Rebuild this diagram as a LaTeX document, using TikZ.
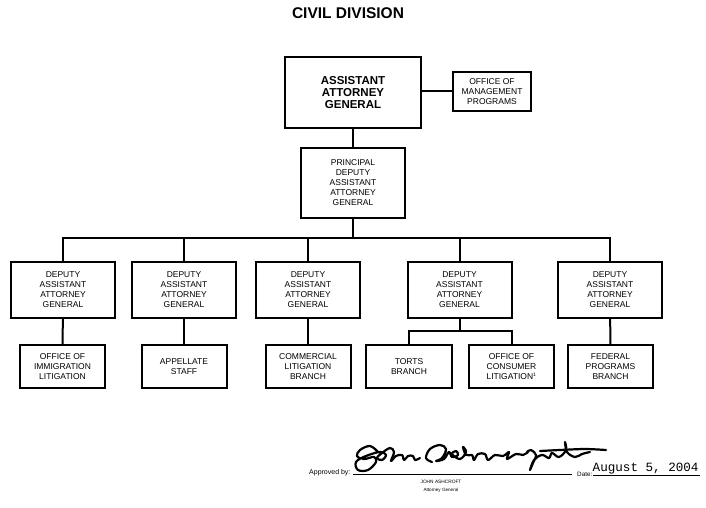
\documentclass[tikz,border=0pt]{standalone}
\usepackage{fontspec}
\setmainfont{Liberation Sans}
\newfontfamily\courierfont{Liberation Mono}
\begin{document}
\begin{tikzpicture}[x=1pt,y=-1pt,
  box/.style={draw,line width=2pt,align=center,inner sep=0pt,
    font=\fontsize{8.5}{10}\selectfont},
  bigbox/.style={draw,line width=2.8pt,align=center,inner sep=0pt,
    font=\fontsize{11.5}{12}\selectfont\bfseries},
  conn/.style={line width=2pt},
  lbl/.style={inner sep=0pt}]
\useasboundingbox (0,0) rectangle (706,508);
\node[lbl,font=\fontsize{15.5}{16}\selectfont\bfseries] (title) at (348,13) {CIVIL DIVISION};
% top
\node[bigbox,minimum width=136pt,minimum height=71pt] (aag) at (353,92.5) {ASSISTANT\\ATTORNEY\\GENERAL};
\node[box,minimum width=78pt,minimum height=39pt] (omp) at (492,91.5) {OFFICE OF\\MANAGEMENT\\PROGRAMS};
\node[box,minimum width=104pt,minimum height=70pt] (pd) at (353,183) {PRINCIPAL\\DEPUTY\\ASSISTANT\\ATTORNEY\\GENERAL};
% deputies
\foreach \n/\x in {d1/63,d2/184,d3/308,d4/459.5,d5/610}{
  \node[box,minimum width=104pt,minimum height=56pt] (\n) at (\x,290) {DEPUTY\\ASSISTANT\\ATTORNEY\\GENERAL};
}
% bottom
\node[box,minimum width=85pt,minimum height=43pt] (b1) at (62.5,366.5) {OFFICE OF\\IMMIGRATION\\LITIGATION};
\node[box,minimum width=85pt,minimum height=43pt] (b2) at (184,366.5) {APPELLATE\\STAFF};
\node[box,minimum width=85pt,minimum height=43pt] (b3) at (308,366.5) {COMMERCIAL\\LITIGATION\\BRANCH};
\node[box,minimum width=86pt,minimum height=43pt] (b4) at (409,366.5) {TORTS\\BRANCH};
\node[box,minimum width=85pt,minimum height=43pt] (b5) at (511.5,366.5) {OFFICE OF\\CONSUMER\\LITIGATION\textsuperscript{\fontsize{5}{5}\selectfont 1}};
\node[box,minimum width=85pt,minimum height=43pt] (b6) at (610.5,366.5) {FEDERAL\\PROGRAMS\\BRANCH};
% connectors
\coordinate (bus) at (353,238);
\coordinate (fork) at (459.5,331);
\draw[conn] (aag.east |- omp.west) -- (omp.west);
\draw[conn] (aag) -- (pd);
\draw[conn] (pd.south) -- (bus);
\draw[conn] (d1.north) |- (bus) -| (d5.north);
\foreach \n in {d2,d3,d4}{\draw[conn] (\n.north) -- (\n.north |- bus);}
\draw[conn] (d1) -- (b1);
\draw[conn] (d2) -- (b2);
\draw[conn] (d3) -- (b3);
\draw[conn] (d5) -- (b6);
\draw[conn] (d4.south) -- (fork);
\draw[conn] (b4.north) |- (fork) -| (b5.north);
% approval
\node[lbl,anchor=base west,font=\fontsize{7}{7}\selectfont] (appr) at (309,474.5) {Approved by:};
\coordinate (s1) at (353,474);
\coordinate (s2) at (572,474);
\draw[line width=0.9pt] (s1) -- (s2);
\node[lbl,anchor=base west,font=\fontsize{6.3}{7}\selectfont] (datel) at (577,476) {Date:};
\coordinate (t1) at (593,475);
\coordinate (t2) at (700,475);
\draw[line width=0.9pt] (t1) -- (t2);
\node[lbl,anchor=base west,font=\fontsize{12.6}{13}\courierfont] (date) at (592.5,471) {August 5, 2004};
\node[lbl,font=\fontsize{4.8}{5}\selectfont] (name) at (441,482) {JOHN ASHCROFT};
\node[lbl,font=\fontsize{4.6}{5}\selectfont] (ag) at (441,490) {Attorney General};
% signature
\begin{scope}[line width=2.2pt,line cap=round,line join=round]
\draw plot[smooth,tension=0.6] coordinates {(378,452) (370,446) (360,450) (357,456) (364,459) (374,457) (376,462) (368,470) (358,470) (356,462) (366,456) (380,452) (386,455) (382,460) (377,458) (382,453) (390,448) (394,452) (391,461) (396,456) (402,455) (404,460) (408,456) (413,456) (415,460) (420,458)};
\draw plot[smooth,tension=0.6] coordinates {(432,462) (426,458) (430,449) (440,445) (446,449) (442,458) (436,461) (444,459) (449,452) (452,457) (458,455) (456,451) (452,454) (460,459) (466,452) (463,447) (466,455) (472,455) (474,460) (478,454) (485,454) (488,460) (495,455) (503,456) (509,452) (507,459) (516,454) (523,455) (528,452)};
\draw plot[smooth,tension=0.6] coordinates {(527,452) (531,450) (536,455) (533,463) (530,470) (534,460) (542,455) (549,458) (552,453) (559,457) (566,450) (565,442) (567,452) (575,457) (582,454) (590,452)};
\draw plot[smooth,tension=0.5] coordinates {(540,451) (560,450) (585,449) (606,450)};
\end{scope}
\end{tikzpicture}
\end{document}
